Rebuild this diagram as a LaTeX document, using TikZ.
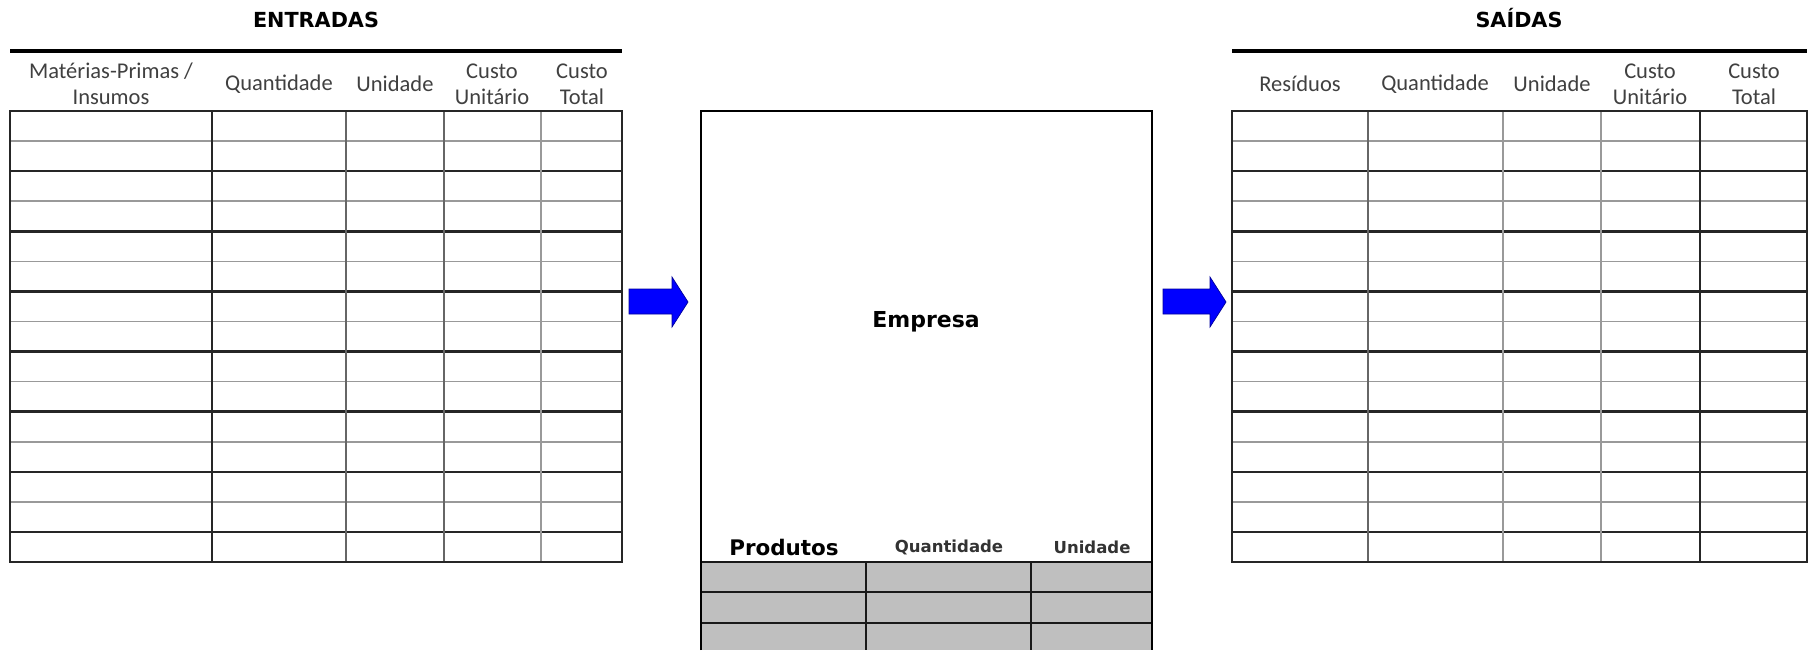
\documentclass[tikz,border=0pt]{standalone}
\usepackage{fontspec}
\newfontfamily\calibri{Carlito}
\newfontfamily\verdana{DejaVu Sans}

\tikzset{
  head/.style={font=\calibri\fontsize{6.4}{7.3}\selectfont, text=black!75, align=center, inner sep=0pt},
  title/.style={font=\verdana\bfseries\fontsize{5.9}{7}\selectfont, inner sep=0pt},
  prodhead/.style={font=\verdana\bfseries\fontsize{4.7}{6}\selectfont, text=black!80, inner sep=0pt},
  major/.style={black!85, line width=0.7pt},
  mid/.style={black!60, line width=0.5pt},
  minor/.style={black!40, line width=0.45pt},
  rule/.style={black, line width=0.9pt},
  blockarrow/.style={fill=blue, draw=blue!60!black, line width=0.2pt}
}

\begin{document}
\begin{tikzpicture}[x=0.01cm, y=-0.01cm]
\useasboundingbox (0,0) rectangle (1810,650);

% Titles
\node[title, anchor=base] (entradas) at (316,27.5) {ENTRADAS};
\node[title, anchor=base] (saidas) at (1519,27.5) {SAÍDAS};
\draw[rule] (10,51) -- (622,51);
\draw[rule] (1232,51) -- (1807,51);

% Column heads, entradas
\node[head] (mat) at (111,84) {Matérias-Primas /\\Insumos};
\node[head] (qtdin) at (279,84) {Quantidade};
\node[head] (unin) at (395,84) {Unidade};
\node[head] (cuin) at (492,84) {Custo\\Unitário};
\node[head] (ctin) at (582,84) {Custo\\Total};

% Column heads, saidas
\node[head] (res) at (1300,84) {Resíduos};
\node[head] (qtdout) at (1435,84) {Quantidade};
\node[head] (unout) at (1552,84) {Unidade};
\node[head] (cuout) at (1650,84) {Custo\\Unitário};
\node[head] (ctout) at (1754,84) {Custo\\Total};

% Row lines of both tables
\foreach \i in {1,3,...,13} {
  \draw[minor] (10,{111+30.07*\i}) -- (622,{111+30.07*\i});
  \draw[minor] (1232,{111+30.07*\i}) -- (1807,{111+30.07*\i});
}
\foreach \i in {2,4,...,14} {
  \draw[major] (10,{111+30.07*\i}) -- (622,{111+30.07*\i});
  \draw[major] (1232,{111+30.07*\i}) -- (1807,{111+30.07*\i});
}

% Columns, entradas
\draw[major] (212,111) -- (212,562);
\draw[mid] (346,111) -- (346,562);
\draw[mid] (444,111) -- (444,562);
\draw[minor] (541,111) -- (541,562);
\draw[major] (10,111) rectangle (622,562);

% Columns, saidas
\draw[mid] (1368,111) -- (1368,562);
\draw[minor] (1503,111) -- (1503,562);
\draw[minor] (1601,111) -- (1601,562);
\draw[major] (1700,111) -- (1700,562);
\draw[major] (1232,111) rectangle (1807,562);

% Arrows
\fill[blockarrow] (629,289) -- (672,289) -- (672,277) -- (688,302) -- (672,327) -- (672,314) -- (629,314) -- cycle;
\fill[blockarrow] (1163,289) -- (1210,289) -- (1210,277) -- (1226,302) -- (1210,327) -- (1210,314) -- (1163,314) -- cycle;

% Empresa box
\fill[black!25] (701,562) rectangle (1152,650);
\draw[black!90, line width=0.5pt] (701,562) -- (1152,562);
\draw[black!90, line width=0.5pt] (701,592) -- (1152,592);
\draw[black!90, line width=0.5pt] (701,623) -- (1152,623);
\draw[black!90, line width=0.5pt] (866,562) -- (866,650);
\draw[black!90, line width=0.5pt] (1031,562) -- (1031,650);
\draw[black, line width=0.8pt] (701,650) -- (701,111) -- (1152,111) -- (1152,650);
\node[title, font=\verdana\bfseries\fontsize{6.25}{7}\selectfont] (empresa) at (926,322) {Empresa};

% Produtos heads
\node[title, font=\verdana\bfseries\fontsize{6.1}{7}\selectfont] (prod) at (784,547) {Produtos};
\node[prodhead] (qtdprod) at (949,547) {Quantidade};
\node[prodhead] (unprod) at (1092,547) {Unidade};
\end{tikzpicture}
\end{document}
